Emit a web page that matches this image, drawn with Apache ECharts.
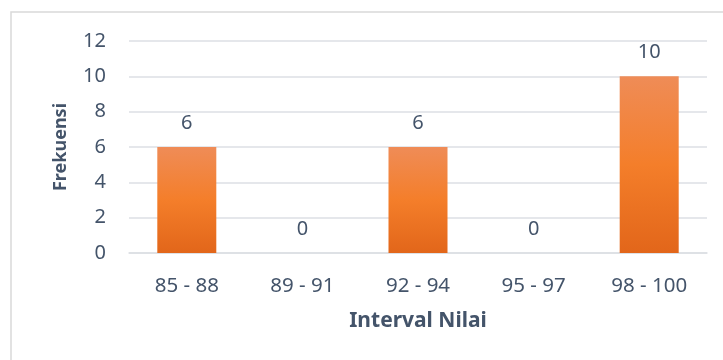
<!DOCTYPE html>
<html>
<head>
<meta charset="utf-8">
<script src="https://cdn.jsdelivr.net/npm/echarts@6/dist/echarts.min.js"></script>
<style>
  html, body { margin: 0; padding: 0; background: #fff; }
  #chart { width: 723px; height: 360px; }
</style>
</head>
<body>
<div id="chart"></div>
<script>
const categories = ["85 - 88", "89 - 91", "92 - 94", "95 - 97", "98 - 100"];
const frekuensi = [6, 0, 6, 0, 10];
const yTicks = [0, 2, 4, 6, 8, 10, 12];

const textColor = "#44546A";
const gridColor = "#DCDFE4";
const font = "Noto Sans";

let myChart = echarts.init(document.getElementById("chart"));
let option = {
  animation: false,
  textStyle: { fontFamily: font },
  graphic: [
    {
      type: "rect",
      shape: { x: 11, y: 12, width: 800, height: 400 },
      style: { fill: "none", stroke: "#D9D9D9", lineWidth: 1.5 },
      silent: true,
    },
  ],
  grid: { left: 129, right: 16, top: 41, bottom: 107 },
  xAxis: {
    type: "category",
    data: categories,
    name: "Interval Nilai",
    nameLocation: "middle",
    nameGap: 58,
    nameTextStyle: { color: textColor, fontSize: 21, fontWeight: "bold", fontFamily: font },
    axisLine: { lineStyle: { color: gridColor, width: 1.5 } },
    axisTick: { show: false },
    axisLabel: { color: textColor, fontSize: 20.5, margin: 23, fontFamily: font },
  },
  yAxis: {
    type: "value",
    min: yTicks[0],
    max: yTicks[yTicks.length - 1],
    interval: 2,
    name: "Frekuensi",
    nameLocation: "middle",
    nameGap: 59,
    nameTextStyle: { color: textColor, fontSize: 18, fontWeight: "bold", fontFamily: font },
    axisLine: { show: false },
    axisTick: { show: false },
    axisLabel: { color: textColor, fontSize: 20, margin: 23, fontFamily: font },
    splitLine: { lineStyle: { color: gridColor, width: 1.5 } },
  },
  series: [
    {
      type: "bar",
      data: frekuensi,
      barWidth: 59,
      itemStyle: {
        color: new echarts.graphic.LinearGradient(0, 0, 0, 1, [
          { offset: 0, color: "#EF8C57" },
          { offset: 0.5, color: "#F47E2A" },
          { offset: 1, color: "#E2661A" },
        ]),
      },
      label: {
        show: true,
        position: "top",
        distance: 14,
        color: textColor,
        fontSize: 20,
        fontFamily: font,
      },
    },
  ],
};
myChart.setOption(option);
</script>
</body>
</html>
